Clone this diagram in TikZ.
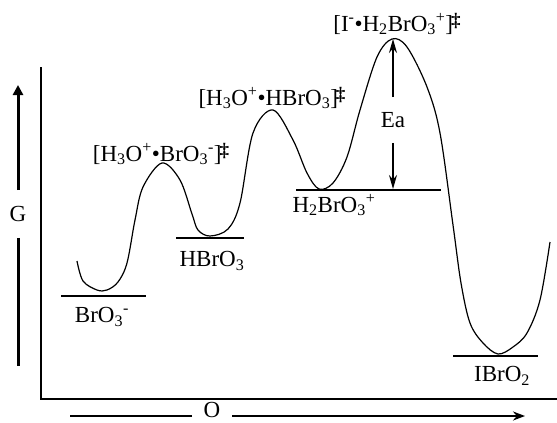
\documentclass[tikz,border=0pt]{standalone}
\usepackage{fontspec}
\setmainfont{Liberation Serif}
\usetikzlibrary{arrows.meta, positioning}

\newcommand{\dg}{\kern-2pt\raisebox{5pt}{\fontsize{19}{19}\selectfont\textbf{‡}}}

\begin{document}
\begin{tikzpicture}[x=1pt, y=-1pt,
  lbl/.style={font=\fontsize{23}{25}\selectfont, inner sep=0pt},
  level/.style={line width=2.5pt},
  axis/.style={line width=2pt},
  curve/.style={line width=1.2pt, line join=round},
  arrow/.style={-{Stealth[length=14pt,width=8pt]}, line width=1.6pt}
]
  \useasboundingbox (0,0) rectangle (557,423);

  % axes
  \coordinate (origin) at (41,399);
  \draw[axis] (41,67) -- (origin) -- (557,399);

  % G arrow
  \node[lbl] (g) at (18,214) {G};
  \coordinate (gbot) at (18,366);
  \coordinate (gtop) at (18,85);
  \draw[line width=3pt, shorten <=16pt] (g) -- (gbot);
  \draw[line width=3pt, shorten <=16pt, -{Triangle[length=10pt,width=10pt]}] (g) -- (gtop);

  % O arrow
  \node[lbl] (o) at (212,410) {O};
  \coordinate (oleft) at (70,416);
  \coordinate (oright) at (525,416);
  \draw[line width=2pt, shorten <=20pt] (o.center |- oleft) -- (oleft);
  \draw[line width=2pt, shorten <=20pt, -{Stealth[length=12pt,width=9pt]}] (o.center |- oright) -- (oright);

  % levels
  \draw[level] (61,296) -- (146,296);
  \draw[level] (176,238) -- (244,238);
  \draw[level] (296,190) -- (441,190);
  \draw[level] (453,356) -- (538,356);

  \node[lbl] (bro3) at (102,317) {BrO\textsubscript{3}\textsuperscript{-}};
  \node[lbl] (hbro3) at (212,261) {HBrO\textsubscript{3}};
  \node[lbl] (h2bro3) at (334,205) {H\textsubscript{2}BrO\textsubscript{3}\textsuperscript{+}};
  \node[lbl] (ibro2) at (502,376) {IBrO\textsubscript{2}};

  % transition states
  \node[lbl] (ts1) at (161,154) {[H\textsubscript{3}O\textsuperscript{+}•BrO\textsubscript{3}\textsuperscript{-}]\dg};
  \node[lbl] (ts2) at (272,98) {[H\textsubscript{3}O\textsuperscript{+}•HBrO\textsubscript{3}]\dg};
  \node[lbl] (ts3) at (397,24) {[I\textsuperscript{-}•H\textsubscript{2}BrO\textsubscript{3}\textsuperscript{+}]\dg};

  % energy profile
  \draw[curve] plot[smooth, tension=0.55] coordinates {
    (77,261) (83,281) (97,290) (107,290) (118,282) (127,263) (135,220)
    (143,187) (162,163) (180,180) (192,214) (198,230) (210,236) (228,229)
    (240,203) (253,133) (273,110) (293,140) (307,173) (319,189) (333,183)
    (347,157) (360,110) (377,57) (392,39) (407,47) (427,87) (440,133)
    (453,225) (461,283) (470,323) (483,343) (498,354) (513,347) (527,333)
    (540,300) (550,242)};

  % activation energy
  \node[lbl] (ea) at (393,120) {Ea};
  \coordinate (ts3top) at (393,39);
  \coordinate (h2lev) at (393,189);
  \draw[arrow, shorten <=15pt] (ea) -- (ts3top);
  \draw[arrow, shorten <=15pt] (ea) -- (h2lev);
\end{tikzpicture}
\end{document}
